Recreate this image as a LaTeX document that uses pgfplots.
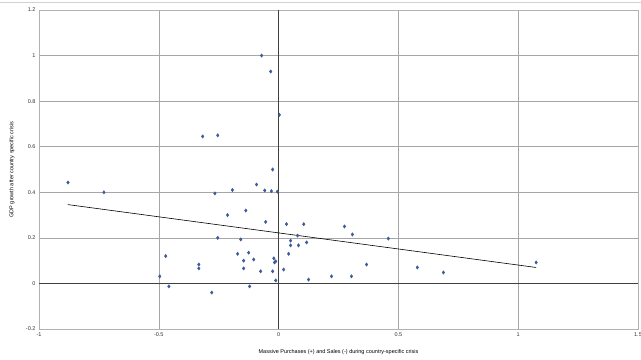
\documentclass[border=0pt]{standalone}
\usepackage{fontspec}
\setmainfont{Liberation Sans}
\usepackage{pgfplots}
\pgfplotsset{compat=1.18}
\definecolor{mk}{RGB}{60,90,155}
\begin{document}
\begin{tikzpicture}
\begin{axis}[
  scale only axis, width=599pt, height=319pt,
  xmin=-1, xmax=1.5, ymin=-0.2, ymax=1.2,
  xtick={-1,-0.5,0,0.5,1,1.5},
  ytick={-0.2,0,0.2,0.4,0.6,0.8,1,1.2},
  grid=major, major grid style={gray!70, line width=0.5pt},
  axis line style={gray!60, line width=0.6pt},
  tick style={draw=none},
  ticklabel style={font=\fontsize{5.5}{6}\selectfont, text=black!80},
  /pgf/number format/assume math mode=true,
  xlabel={Massive Purchases (+) and Sales (-) during country-specific crisis},
  ylabel={GDP growth after country specific crisis},
  every axis x label/.style={at={(rel axis cs:0.5,0)}, yshift=-23pt, anchor=center, font=\fontsize{5.5}{6}\selectfont},
  every axis y label/.style={at={(rel axis cs:0,0.5)}, xshift=-27pt, rotate=90, anchor=center, font=\fontsize{5.5}{6}\selectfont},
  clip=false,
]
\coordinate (bl) at (rel axis cs:0,0);
\coordinate (tr) at (rel axis cs:1,1);
\draw[black!75, line width=1.1pt] (axis cs:0,-0.2) -- (axis cs:0,1.2);
\draw[black!75, line width=1.1pt] (axis cs:-1,0) -- (axis cs:1.5,0);
\addplot[black, line width=0.6pt] coordinates {(-0.88,0.346) (1.075,0.070)};
\addplot[only marks, mark=diamond*, mark size=1.7pt, color=mk] coordinates {
(-0.071,1.00) (-0.033,0.93) (-0.317,0.645) (-0.254,0.65) (-0.025,0.50) (0.003,0.74)
(-0.879,0.443) (-0.729,0.40) (-0.266,0.395) (-0.193,0.41) (-0.092,0.434) (-0.058,0.408)
(-0.030,0.405) (-0.005,0.403) (-0.213,0.30) (-0.137,0.32) (-0.054,0.27) (0.033,0.26)
(0.105,0.26) (-0.254,0.20) (-0.158,0.193) (0.050,0.188) (0.079,0.21) (0.050,0.167)
(0.083,0.167) (0.117,0.18) (0.042,0.13) (-0.471,0.12) (-0.171,0.13) (-0.125,0.135)
(-0.146,0.10) (-0.104,0.105) (-0.020,0.11) (-0.012,0.097) (-0.333,0.083) (-0.333,0.066)
(-0.146,0.066) (-0.075,0.053) (-0.025,0.053) (0.021,0.061) (-0.017,0.092) (-0.012,0.013)
(-0.496,0.031) (-0.458,-0.013) (-0.121,-0.013) (-0.279,-0.04) (0.125,0.017)
(0.275,0.25) (0.308,0.215) (0.458,0.197) (0.367,0.083) (0.221,0.031) (0.304,0.031)
(0.579,0.07) (0.688,0.048) (1.075,0.092)
};
\end{axis}
\pgfresetboundingbox
\path[use as bounding box] ([shift={(-39pt,-31pt)}]bl) rectangle ([shift={(3pt,10pt)}]tr);
\draw[gray!35, line width=0.6pt] ([shift={(-39pt,8pt)}]tr -| bl) -- ([shift={(3pt,8pt)}]tr);
\end{tikzpicture}
\end{document}
